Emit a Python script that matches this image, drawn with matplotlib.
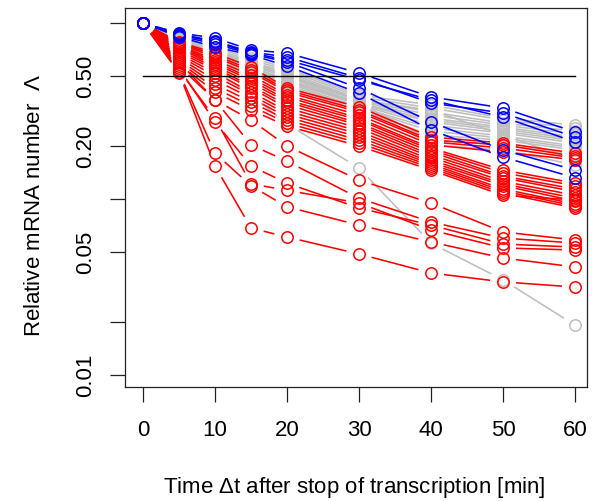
import numpy as np
import matplotlib
matplotlib.use("Agg")
import matplotlib.pyplot as plt

plt.rcParams['font.family'] = ['Liberation Sans', 'DejaVu Sans']
plt.rcParams['mathtext.fontset'] = 'custom'
plt.rcParams['mathtext.it'] = 'Liberation Sans:italic'
plt.rcParams['mathtext.rm'] = 'Liberation Sans'

# time points [min]
times = [0, 5, 10, 15, 20, 30, 40, 50, 60]

# ---- grey genes ----
grey_series = [
    [1, 0.822, 0.721, 0.633, 0.555, 0.39, 0.342, 0.288, 0.263],
    [1, 0.811, 0.703, 0.616, 0.541, 0.38, 0.329, 0.281, 0.253],
    [1, 0.80, 0.693, 0.60, 0.527, 0.37, 0.312, 0.27, 0.243],
    [1, 0.79, 0.684, 0.593, 0.513, 0.365, 0.30, 0.263, 0.234],
    [1, 0.78, 0.675, 0.585, 0.50, 0.36, 0.288, 0.256, 0.225],
    [1, 0.77, 0.667, 0.57, 0.493, 0.351, 0.281, 0.25, 0.219],
    [1, 0.76, 0.649, 0.555, 0.48, 0.347, 0.274, 0.243, 0.214],
    [1, 0.75, 0.641, 0.541, 0.468, 0.342, 0.263, 0.237, 0.208],
    [1, 0.74, 0.633, 0.527, 0.456, 0.333, 0.253, 0.228, 0.20],
    [1, 0.731, 0.624, 0.513, 0.444, 0.329, 0.243, 0.222, 0.195],
    [1, 0.721, 0.616, 0.50, 0.433, 0.32, 0.231, 0.216, 0.19],
    [1, 0.76, 0.658, 0.562, 0.474, 0.351, 0.216, 0.203, 0.178],
    [1, 0.78, 0.667, 0.577, 0.506, 0.365, 0.32, 0.231, 0.167],
    [1, 0.74, 0.633, 0.541, 0.462, 0.347, 0.203, 0.19, 0.156],
    [1, 0.75, 0.541, 0.39, 0.267, 0.15, 0.0562, 0.0347, 0.0192],
]

# ---- red genes ----
red_series = [
    [1, 0.78, 0.675, 0.562, 0.427, 0.333, 0.225, 0.208, 0.182],
    [1, 0.77, 0.658, 0.541, 0.416, 0.32, 0.216, 0.203, 0.175],
    [1, 0.76, 0.641, 0.527, 0.405, 0.312, 0.211, 0.195, 0.171],
    [1, 0.75, 0.616, 0.506, 0.39, 0.30, 0.203, 0.185, 0.167],
    [1, 0.74, 0.60, 0.487, 0.38, 0.288, 0.195, 0.146, 0.123],
    [1, 0.731, 0.585, 0.474, 0.365, 0.281, 0.19, 0.141, 0.119],
    [1, 0.721, 0.57, 0.456, 0.356, 0.27, 0.185, 0.135, 0.114],
    [1, 0.703, 0.555, 0.439, 0.342, 0.263, 0.178, 0.132, 0.11],
    [1, 0.684, 0.541, 0.427, 0.329, 0.253, 0.173, 0.126, 0.105],
    [1, 0.667, 0.52, 0.405, 0.316, 0.243, 0.167, 0.122, 0.101],
    [1, 0.649, 0.50, 0.39, 0.304, 0.234, 0.162, 0.119, 0.0975],
    [1, 0.633, 0.474, 0.375, 0.292, 0.225, 0.158, 0.114, 0.0937],
    [1, 0.616, 0.45, 0.356, 0.281, 0.216, 0.154, 0.111, 0.0913],
    [1, 0.60, 0.427, 0.338, 0.27, 0.208, 0.15, 0.108, 0.0889],
    [1, 0.585, 0.405, 0.32, 0.26, 0.20, 0.146, 0.105, 0.0987],
    [1, 0.52, 0.154, 0.0684, 0.0608, 0.0487, 0.038, 0.0338, 0.0316],
    [1, 0.527, 0.182, 0.119, 0.0902, 0.0711, 0.057, 0.0462, 0.0411],
    [1, 0.541, 0.288, 0.122, 0.112, 0.0949, 0.0667, 0.0527, 0.0513],
    [1, 0.555, 0.274, 0.154, 0.123, 0.0889, 0.0711, 0.0555, 0.0533],
    [1, 0.57, 0.365, 0.203, 0.164, 0.101, 0.074, 0.06, 0.0562],
    [1, 0.60, 0.365, 0.281, 0.20, 0.128, 0.0949, 0.065, 0.0585],
]

# ---- blue genes ----
blue_series = [
    [1, 0.877, 0.822, 0.703, 0.675, 0.52, 0.38, 0.329, 0.24],
    [1, 0.866, 0.79, 0.684, 0.641, 0.487, 0.351, 0.308, 0.225],
    [1, 0.844, 0.76, 0.667, 0.60, 0.427, 0.274, 0.19, 0.146],
    [1, 0.833, 0.731, 0.658, 0.57, 0.40, 0.247, 0.173, 0.132],
    [1, 0.855, 0.78, 0.675, 0.616, 0.474, 0.365, 0.292, 0.211],
]

y_ticks = [0.01, 0.02, 0.05, 0.1, 0.2, 0.5, 1.0]
y_ticklabels = ['0.01', '', '0.05', '', '0.20', '0.50', '']
x_ticks = [0, 10, 20, 30, 40, 50, 60]
ref_level = 0.5

W, H = 592, 501
fig = plt.figure(figsize=(W / 100, H / 100), dpi=100)
ax = fig.add_axes([125 / W, 1 - 387 / H, (587 - 125) / W, (387 - 8) / H])
ax.set_yscale('log')
ax.set_xlim(-2.5, 61.67)
ax.set_ylim(10 ** (-364 / 176), 10 ** (15 / 176))

GAP = 13.0  # px gap between line ends and point centres (R type="b")


def draw_series(vals, color):
    pts = ax.transData.transform(np.column_stack([times, vals]))
    inv = ax.transData.inverted()
    for p0, p1 in zip(pts[:-1], pts[1:]):
        d = p1 - p0
        L = np.hypot(*d)
        if L <= 2 * GAP:
            continue
        u = d / L
        a = inv.transform(p0 + u * GAP)
        b = inv.transform(p1 - u * GAP)
        ax.plot([a[0], b[0]], [a[1], b[1]], color=color, lw=1.15,
                solid_capstyle='butt')
    ax.plot(times, vals, linestyle='none', marker='o', ms=8.2,
            mfc='none', mec=color, mew=1.1)


for s in grey_series:
    draw_series(s, '#BEBEBE')
for s in red_series:
    draw_series(s, '#FF0000')
for s in blue_series:
    draw_series(s, '#0000FF')

ax.plot([0, 60], [ref_level, ref_level], color='black', lw=1.0)

ax.set_yticks(y_ticks)
ax.set_yticklabels(y_ticklabels, rotation=90, va='center', ha='right')
ax.yaxis.set_minor_locator(matplotlib.ticker.NullLocator())
ax.set_xticks(x_ticks)
ax.set_xticklabels([str(t) for t in x_ticks])
ax.tick_params(axis='both', direction='out', length=11, width=0.9,
               labelsize=16, color='#222222')
ax.tick_params(axis='x', pad=13)
ax.tick_params(axis='y', pad=10)
for sp in ax.spines.values():
    sp.set_linewidth(0.9)
    sp.set_color('#222222')

fig.text(35 / W, 1 - 206 / H, r'Relative mRNA number  $\mathit{\Lambda}$',
         rotation=90, ha='center', va='center', fontsize=16)
fig.text(354 / W, 1 - 487 / H, r'Time $\Delta$t after stop of transcription [min]',
         ha='center', va='center', fontsize=16)

fig.savefig('out.png', dpi=100)
